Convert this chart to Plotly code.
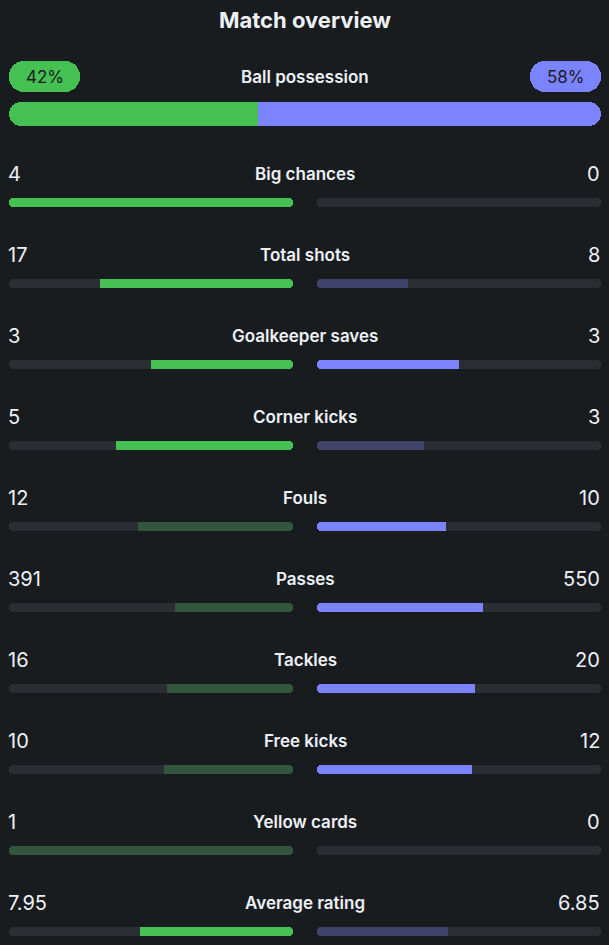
import plotly.graph_objects as go

# ---------------- data ----------------
title = "Match overview"
possession_label = "Ball possession"
possession = [42, 58]  # home, away (%)

categories = ["Big chances", "Total shots", "Goalkeeper saves", "Corner kicks", "Fouls",
              "Passes", "Tackles", "Free kicks", "Yellow cards", "Average rating"]
home_values = [4, 17, 3, 5, 12, 391, 16, 10, 1, 7.95]
away_values = [0, 8, 3, 3, 10, 550, 20, 12, 0, 6.85]
home_labels = ["4", "17", "3", "5", "12", "391", "16", "10", "1", "7.95"]
away_labels = ["0", "8", "3", "3", "10", "550", "20", "12", "0", "6.85"]
home_strong = [True, True, True, True, False, False, False, False, False, True]
away_strong = [False, False, True, False, True, True, True, True, False, False]

# ---------------- style ----------------
BG = "#191c1f"
TRACK = "#2a2e33"
GREEN = "#44c152"
GREEN_DIM = "#32553c"
PURPLE = "#7c83ff"
PURPLE_DIM = "#40446a"
TEXT = "#edf1f6"
PILL_TEXT = "#1a1d20"
FONT = "Inter"

W, H = 609, 945
X0, X1 = 9, 601            # full content width
LEFT_END = 293             # left stat bar ends here
RIGHT_START = 317          # right stat bar starts here
BAR_LEN = LEFT_END - X0
ROW_TEXT_Y0 = 174
ROW_STEP = 81
ROW_BAR_OFF = 28.5
BAR_H = 9
R = 4.5

n = len(categories)
text_y = [ROW_TEXT_Y0 + ROW_STEP * i for i in range(n)]
bar_y = [t + ROW_BAR_OFF for t in text_y]

fig = go.Figure()


def hbar(base, length, y, color, width, radius):
    # a bar with an explicit base is rounded at both ends by plotly
    fig.add_trace(go.Bar(
        orientation="h", base=base, x=length, y=y, width=width,
        marker=dict(color=color, cornerradius=radius, line=dict(width=0)),
        hoverinfo="skip", showlegend=False))


# --- pills (possession %) ---
pill_w, pill_h = 71, 31
pill_y = 76.5
hbar([X0], [pill_w], [pill_y], [GREEN], pill_h, pill_h / 2)
hbar([X1 - pill_w], [pill_w], [pill_y], [PURPLE], pill_h, pill_h / 2)

# --- possession bar ---
poss_y = 114
poss_h = 24
split = X0 + (X1 - X0) * possession[0] / sum(possession)
hbar([X0], [split - X0], [poss_y], [GREEN], poss_h, poss_h / 2)
hbar([split - 20], [20], [poss_y], [GREEN], poss_h, 0)          # square inner end
hbar([split], [X1 - split], [poss_y], [PURPLE], poss_h, poss_h / 2)
hbar([split], [20], [poss_y], [PURPLE], poss_h, 0)              # square inner end

# --- tracks ---
hbar([X0] * n, [BAR_LEN] * n, bar_y, [TRACK] * n, BAR_H, R)
hbar([RIGHT_START] * n, [BAR_LEN] * n, bar_y, [TRACK] * n, BAR_H, R)

# --- fills ---
for i in range(n):
    tot = home_values[i] + away_values[i]
    hf = home_values[i] / tot if tot else 0
    af = away_values[i] / tot if tot else 0
    if hf > 0:
        L = hf * BAR_LEN
        start = LEFT_END - L
        col = GREEN if home_strong[i] else GREEN_DIM
        hbar([start], [L], [bar_y[i]], [col], BAR_H, R)
        if hf < 0.999:
            hbar([start], [min(L / 2, 10)], [bar_y[i]], [col], BAR_H, 0)
    if af > 0:
        L = af * BAR_LEN
        end = RIGHT_START + L
        col = PURPLE if away_strong[i] else PURPLE_DIM
        hbar([RIGHT_START], [L], [bar_y[i]], [col], BAR_H, R)
        if af < 0.999:
            c = min(L / 2, 10)
            hbar([end - c], [c], [bar_y[i]], [col], BAR_H, 0)

# --- text ---
ann = []
ann.append(dict(x=W / 2, y=20, text=title, showarrow=False, xanchor="center", yanchor="middle",
                font=dict(family=FONT, size=22, color=TEXT, weight=700)))
ann.append(dict(x=(X0 + X1) / 2, y=pill_y, text=possession_label, showarrow=False,
                xanchor="center", yanchor="middle",
                font=dict(family=FONT, size=17, color=TEXT, weight=600)))
ann.append(dict(x=X0 + pill_w / 2, y=pill_y, text=f"{possession[0]}%", showarrow=False,
                xanchor="center", yanchor="middle", font=dict(family=FONT, size=17, color=PILL_TEXT)))
ann.append(dict(x=X1 - pill_w / 2, y=pill_y, text=f"{possession[1]}%", showarrow=False,
                xanchor="center", yanchor="middle", font=dict(family=FONT, size=17, color=PILL_TEXT)))
for i in range(n):
    ann.append(dict(x=(X0 + X1) / 2, y=text_y[i], text=categories[i], showarrow=False,
                    xanchor="center", yanchor="middle",
                    font=dict(family=FONT, size=17, color=TEXT, weight=600)))
    ann.append(dict(x=X0 - 1, y=text_y[i], text=home_labels[i], showarrow=False,
                    xanchor="left", yanchor="middle", xshift=-2,
                    font=dict(family=FONT, size=20, color=TEXT)))
    ann.append(dict(x=X1 + 1, y=text_y[i], text=away_labels[i], showarrow=False,
                    xanchor="right", yanchor="middle",
                    font=dict(family=FONT, size=20, color=TEXT)))

fig.update_layout(
    width=W, height=H, autosize=False,
    margin=dict(l=0, r=0, t=0, b=0, pad=0),
    paper_bgcolor=BG, plot_bgcolor=BG,
    barmode="overlay", bargap=0,
    xaxis=dict(range=[0, W], visible=False, fixedrange=True),
    yaxis=dict(range=[H, 0], visible=False, fixedrange=True),
    annotations=ann,
    showlegend=False,
)

fig.write_html("out.html", config={"displayModeBar": False},
               post_script="document.body.style.margin='0';document.body.style.overflow='hidden';")
